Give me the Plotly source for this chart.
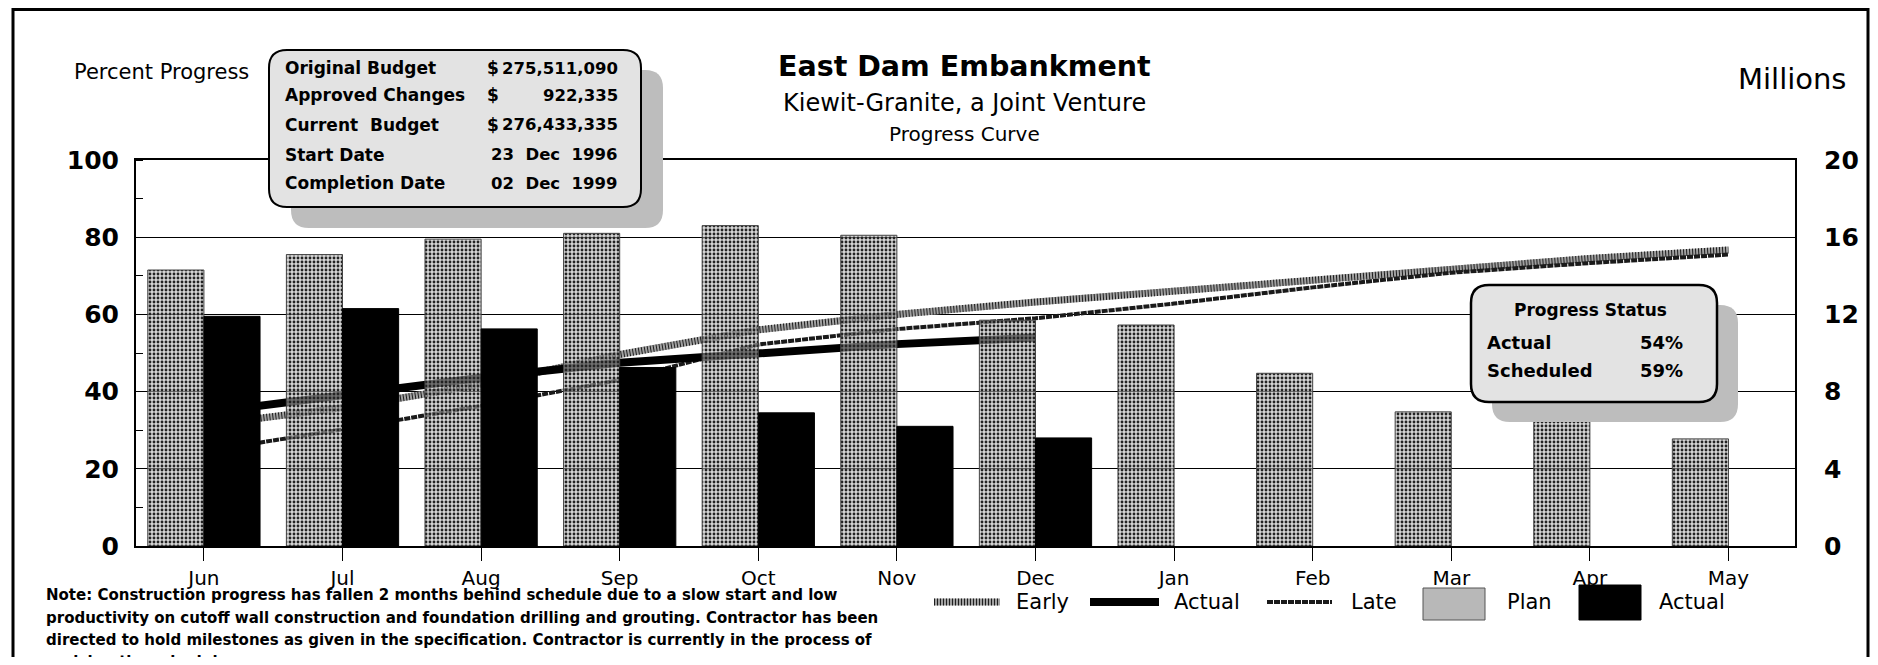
import plotly.graph_objects as go

# ---------------- data ----------------
months = ["Jun", "Jul", "Aug", "Sep", "Oct", "Nov", "Dec", "Jan", "Feb", "Mar", "Apr", "May"]
plan_millions = [14.3, 15.1, 15.9, 16.2, 16.6, 16.1, 11.7, 11.45, 8.95, 6.95, 6.6, 5.55]
actual_months = ["Jun", "Jul", "Aug", "Sep", "Oct", "Nov", "Dec"]
actual_millions = [11.9, 12.3, 11.25, 9.25, 6.9, 6.2, 5.6]
early_pct = [31.3, 35.8, 41.8, 49.6, 56.0, 60.0, 63.2, 66.0, 69.0, 72.0, 74.5, 76.7]
late_pct = [24.5, 30.2, 36.3, 43.0, 52.2, 56.2, 59.0, 62.8, 67.0, 70.8, 73.3, 75.5]
actual_pct = [34.5, 39.0, 43.6, 47.5, 50.1, 52.3, 54.0]

left_ticks = [0, 20, 40, 60, 80, 100]
right_ticks = [0, 4, 8, 12, 16, 20]

info_labels = ["Original Budget", "Approved Changes", "Current  Budget", "Start Date", "Completion Date"]
info_currency = ["$", "$", "$", "", ""]
info_values = ["275,511,090", "922,335", "276,433,335", "23  Dec  1996", "02  Dec  1999"]

status_title = "Progress Status"
status_labels = ["Actual", "Scheduled"]
status_values = ["54%", "59%"]

note_lines = [
    "Note: Construction progress has fallen 2 months behind schedule due to a slow start and low",
    "productivity on cutoff wall construction and foundation drilling and grouting. Contractor has been",
    "directed to hold milestones as given in the specification. Contractor is currently in the process of",
    "revising the schedule.",
]

legend_labels = ["Early", "Actual", "Late", "Plan", "Actual"]

FONT = "DejaVu Sans"

# ---------------- geometry helpers (page pixel -> paper) ----------------
OFF = 8                     # default page margin of the html body
W, H = 1878 - 2 * OFF, 665 - 2 * OFF
L, R, T, B = 136, 1795, 160, 546   # plot area in page pixels


def px(x):
    return (x - L) / (R - L)


def py(y):
    return (B - y) / (B - T)


def rrect_path(x0, y0, x1, y1, r):
    rx = r / (R - L)
    ry = r / (B - T)
    X0, X1 = px(x0), px(x1)
    Y0, Y1 = py(y0), py(y1)
    return (
        f"M {X0 + rx} {Y0} L {X1 - rx} {Y0} Q {X1} {Y0} {X1} {Y0 - ry} "
        f"L {X1} {Y1 + ry} Q {X1} {Y1} {X1 - rx} {Y1} "
        f"L {X0 + rx} {Y1} Q {X0} {Y1} {X0} {Y1 + ry} "
        f"L {X0} {Y0 - ry} Q {X0} {Y0} {X0 + rx} {Y0} Z"
    )


def txt(text, x, y, size, anchor="left", bold=False):
    return dict(text=text, xref="paper", yref="paper", x=px(x), y=py(y), xanchor=anchor, yanchor="middle",
                font=dict(family=FONT, size=size, color="black", weight="bold" if bold else "normal"),
                showarrow=False)


fig = go.Figure()

# lines (percent, left axis)
fig.add_trace(go.Scatter(x=months, y=early_pct, mode="lines", yaxis="y",
                         line=dict(color="#a0a0a0", width=7), hoverinfo="skip", showlegend=False))
fig.add_trace(go.Scatter(x=months, y=early_pct, mode="lines", yaxis="y",
                         line=dict(color="#1e1e1e", width=7, dash="1px,2px"), hoverinfo="skip", showlegend=False))
fig.add_trace(go.Scatter(x=months, y=late_pct, mode="lines", yaxis="y",
                         line=dict(color="#1a1a1a", width=4, dash="6px,1px"), hoverinfo="skip", showlegend=False))
fig.add_trace(go.Scatter(x=actual_months, y=actual_pct, mode="lines", yaxis="y",
                         line=dict(color="black", width=8), hoverinfo="skip", showlegend=False))

# bars (millions, right axis)
fig.add_trace(go.Bar(x=months, y=plan_millions, yaxis="y2", name="Plan", showlegend=False,
                     marker=dict(color="rgba(175,175,175,0.6)",
                                 line=dict(color="#444444", width=1),
                                 pattern=dict(shape=".", fgcolor="#222222", bgcolor="rgba(185,185,185,0.6)",
                                              size=4, solidity=0.4, fillmode="replace"))))
fig.add_trace(go.Bar(x=actual_months, y=actual_millions, yaxis="y2", name="Actual", showlegend=False,
                     marker=dict(color="black", line=dict(color="black", width=1))))

shapes = []
annotations = []

# outer border (top, left, right) and visible part of bottom edge
shapes.append(dict(type="rect", xref="paper", yref="paper", x0=px(13), x1=px(1868), y0=py(720), y1=py(9.5),
                   line=dict(color="black", width=3), fillcolor="rgba(0,0,0,0)", layer="above"))

# info box with shadow
shapes.append(dict(type="path", xref="paper", yref="paper", path=rrect_path(291, 70, 663, 228, 18),
                   fillcolor="#bdbdbd", line=dict(width=0), layer="above"))
shapes.append(dict(type="path", xref="paper", yref="paper", path=rrect_path(269, 50, 641, 207, 18),
                   fillcolor="#e3e3e3", line=dict(color="black", width=2), layer="above"))
info_rows_y = [68, 95, 125, 155, 183]
for lab, cur, val, yy in zip(info_labels, info_currency, info_values, info_rows_y):
    annotations.append(txt(lab, 283, yy, 17, "left", True))
    if cur:
        annotations.append(txt(cur, 485, yy, 17, "left", True))
    annotations.append(txt(val, 620, yy, 16.5, "right", True))

# progress status box with shadow
shapes.append(dict(type="path", xref="paper", yref="paper", path=rrect_path(1492, 305, 1738, 422, 18),
                   fillcolor="#bdbdbd", line=dict(width=0), layer="above"))
shapes.append(dict(type="path", xref="paper", yref="paper", path=rrect_path(1471, 285, 1717, 402, 18),
                   fillcolor="#e3e3e3", line=dict(color="black", width=2.5), layer="above"))
annotations.append(txt(status_title, 1590, 310, 17, "center", True))
for lab, val, yy in zip(status_labels, status_values, [342, 370]):
    annotations.append(txt(lab, 1485, yy, 18, "left", True))
    annotations.append(txt(val, 1685, yy, 18, "right", True))

# titles
annotations.append(txt("East Dam Embankment", 964, 66, 28.5, "center", True))
annotations.append(txt("Kiewit-Granite, a Joint Venture", 964, 103, 24, "center"))
annotations.append(txt("Progress Curve", 964, 134, 20, "center"))
annotations.append(txt("Percent Progress", 161, 72, 21, "center"))
annotations.append(txt("Millions", 1792, 79, 29, "center"))

# note
for line, yy in zip(note_lines, [595, 618, 640, 662]):
    annotations.append(txt(line, 44, yy, 15, "left", True))

# legend (manual)
ly = 602
shapes.append(dict(type="line", xref="paper", yref="paper", x0=px(934), x1=px(1000), y0=py(ly), y1=py(ly),
                   line=dict(color="#a0a0a0", width=7), layer="above"))
shapes.append(dict(type="line", xref="paper", yref="paper", x0=px(934), x1=px(1000), y0=py(ly), y1=py(ly),
                   line=dict(color="#1e1e1e", width=7, dash="1px,2px"), layer="above"))
shapes.append(dict(type="line", xref="paper", yref="paper", x0=px(1090), x1=px(1159), y0=py(ly), y1=py(ly),
                   line=dict(color="black", width=8), layer="above"))
shapes.append(dict(type="line", xref="paper", yref="paper", x0=px(1267), x1=px(1332), y0=py(ly), y1=py(ly),
                   line=dict(color="#1a1a1a", width=4, dash="6px,1px"), layer="above"))
shapes.append(dict(type="rect", xref="paper", yref="paper", x0=px(1423), x1=px(1485), y0=py(620), y1=py(588),
                   fillcolor="#b8b8b8", line=dict(color="#555555", width=1), layer="above"))
shapes.append(dict(type="rect", xref="paper", yref="paper", x0=px(1579), x1=px(1641), y0=py(620), y1=py(585),
                   fillcolor="black", line=dict(color="black", width=1), layer="above"))
for lab, xx in zip(legend_labels, [1014, 1172, 1349, 1505, 1657]):
    annotations.append(txt(lab, xx, ly, 21, "left"))

fig.update_layout(
    width=W, height=H,
    margin=dict(l=L - OFF, r=W - (R - OFF), t=T - OFF, b=H - (B - OFF), autoexpand=False),
    paper_bgcolor="white", plot_bgcolor="white",
    showlegend=False,
    barmode="group", bargap=0.19, bargroupgap=0.0,
    font=dict(family=FONT, color="black"),
    xaxis=dict(type="category", categoryorder="array", categoryarray=months, range=[-0.49, 11.48],
               ticks="outside", ticklen=13, tickcolor="black", tickwidth=1,
               showline=True, linecolor="black", linewidth=2, mirror=True, showgrid=False,
               tickfont=dict(family=FONT, size=20, color="black"), ticklabelstandoff=0),
    yaxis=dict(range=[0, 100], tickvals=left_ticks, showgrid=True, gridcolor="black", gridwidth=1,
               showline=True, linecolor="black", linewidth=2, ticks="", zeroline=False,
               tickfont=dict(family=FONT, size=25, color="black", weight="bold"), ticklabelstandoff=10,
               minor=dict(dtick=10, tick0=0, ticks="inside", ticklen=7, tickcolor="black", showgrid=False)),
    yaxis2=dict(range=[0, 20], tickvals=right_ticks, overlaying="y", side="right", showgrid=False,
                showline=True, linecolor="black", linewidth=2, ticks="", zeroline=False,
                tickfont=dict(family=FONT, size=25, color="black", weight="bold"), ticklabelstandoff=22),
    shapes=shapes,
    annotations=annotations,
)

fig.write_html("out.html")
